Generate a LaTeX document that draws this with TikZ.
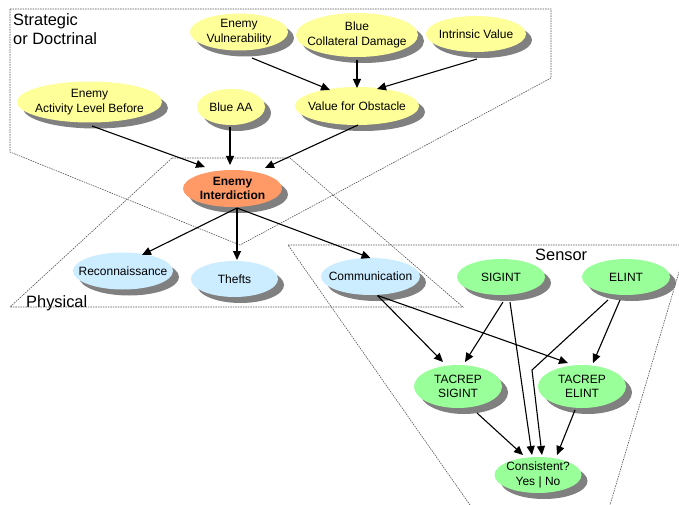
\documentclass[tikz,border=0pt]{standalone}
\usepackage{fontspec}
\setmainfont{Liberation Sans}
\usetikzlibrary{shapes.geometric,shadows,arrows.meta,calc}
\definecolor{yel}{HTML}{FFFF99}
\definecolor{ora}{HTML}{FF9966}
\definecolor{blu}{HTML}{CCECFF}
\definecolor{grn}{HTML}{99FF99}
\definecolor{shg}{HTML}{808080}
\definecolor{reg}{HTML}{505050}
\begin{document}
\begin{tikzpicture}[x=1pt,y=-1pt,
  bn/.style={ellipse, draw=none, inner sep=0pt,
    drop shadow={shadow xshift=6pt, shadow yshift=-6pt, fill=shg, opacity=1}},
  every label/.style={align=center, inner sep=0pt, text=black,
    font=\fontsize{12}{14.5}\selectfont},
  arr/.style={-{Triangle[length=9pt,width=8pt]}, line width=1.1pt},
  region/.style={draw=reg, line width=0.6pt, dash pattern=on 1.5pt off 1pt},
  title/.style={inner sep=0pt, font=\fontsize{16.4}{19}\selectfont, align=left}]
\useasboundingbox (0,0) rectangle (679,505);
% regions
\draw[region] (10,9) -- (551,9) -- (551,78) -- (240,245) -- (10,152) -- cycle;
\draw[region] (172,158) -- (290,158) -- (463,307) -- (10,307) -- cycle;
\draw[region] (470,505) -- (288,245) -- (679,245);
\draw[region] (679,272) -- (610,505);
\node[title, anchor=north west] (tstrat) at (13,13) {Strategic\\or Doctrinal};
\node[title, anchor=base west] (tphys) at (26,307) {Physical};
\node[title, anchor=base west] (tsens) at (535,260) {Sensor};
% nodes
\node[bn, fill=yel, minimum width=98pt, minimum height=37pt, label={center:Enemy\\Vulnerability}] (ev) at (239,32) {};
\node[bn, fill=yel, minimum width=122pt, minimum height=44pt, label={center:Blue\\Collateral Damage}] (bcd) at (357,35) {};
\node[bn, fill=yel, minimum width=100pt, minimum height=36pt, label={center:Intrinsic Value}] (iv) at (476,34) {};
\node[bn, fill=yel, minimum width=124pt, minimum height=38pt, label={center:Value for Obstacle}] (vo) at (357,106) {};
\node[bn, fill=yel, minimum width=68pt, minimum height=36pt, label={center:Blue AA}] (baa) at (231,107) {};
\node[bn, fill=yel, minimum width=145pt, minimum height=41pt, label={center:Enemy\\Activity Level Before}] (eab) at (89.5,102) {};
\node[bn, fill=ora, minimum width=99pt, minimum height=37pt, label={[font=\fontsize{12}{14.5}\selectfont\bfseries]center:Enemy\\Interdiction}] (ei) at (232.5,188.5) {};
\node[bn, fill=blu, minimum width=100pt, minimum height=37pt, label={center:Reconnaissance}] (rec) at (123,271) {};
\node[bn, fill=blu, minimum width=87pt, minimum height=36pt, label={center:Thefts}] (thf) at (234.5,279) {};
\node[bn, fill=blu, minimum width=99pt, minimum height=37pt, label={center:Communication}] (com) at (370.5,276.5) {};
\node[bn, fill=grn, minimum width=88pt, minimum height=36pt, label={center:SIGINT}] (sig) at (501,277) {};
\node[bn, fill=grn, minimum width=88pt, minimum height=36pt, label={center:ELINT}] (eli) at (626,277) {};
\node[bn, fill=grn, minimum width=88pt, minimum height=43pt, label={center:TACREP\\SIGINT}] (ts) at (458,386.5) {};
\node[bn, fill=grn, minimum width=88pt, minimum height=43pt, label={center:TACREP\\ELINT}] (te) at (582,386.5) {};
\node[bn, fill=grn, minimum width=87pt, minimum height=36pt, label={center:Consistent?\\Yes | No}] (con) at (538,475) {};
% edges
\draw[arr] ($(ev)+(13,26)$) -- ($(vo)+(-27,-16)$);
\draw[arr] ($(bcd)+(0,25)$) -- ($(vo)+(0,-18)$);
\draw[arr] ($(iv)+(1,25)$) -- ($(vo)+(20,-17)$);
\draw[arr] ($(eab)+(2.5,24)$) -- ($(ei)+(-27.5,-21.5)$);
\draw[arr] ($(baa)+(-1,20)$) -- ($(ei)+(-2.5,-23.5)$);
\draw[arr] ($(vo)+(1,19)$) -- ($(ei)+(32.5,-20.5)$);
\draw[arr] ($(ei)+(4.5,19.5)$) -- ($(rec)+(19,-16)$);
\draw[arr] ($(ei)+(4.5,19.5)$) -- ($(thf)+(2.5,-19)$);
\draw[arr] ($(ei)+(4.5,19.5)$) -- ($(com)+(0,-18.5)$);
\draw[arr] ($(com)+(7,19)$) -- ($(ts)+(-15,-24.5)$);
\draw[arr] ($(com)+(7,19)$) -- ($(te)+(-14,-23.5)$);
\draw[arr] ($(sig)+(2,25)$) -- ($(ts)+(7,-24.5)$);
\draw[arr] ($(sig)+(9,25)$) -- ($(con)+(-6,-20)$);
\draw[arr] ($(eli)+(-18,23)$) -- ($(con)+(-6,-105)$) -- ($(con)+(4,-20)$);
\draw[arr] ($(eli)+(-6,23)$) -- ($(te)+(11,-23.5)$);
\draw[arr] ($(ts)+(19,26.5)$) -- ($(con)+(-15,-20)$);
\draw[arr] ($(te)+(-7,23.5)$) -- ($(con)+(19,-20)$);
\end{tikzpicture}
\end{document}
